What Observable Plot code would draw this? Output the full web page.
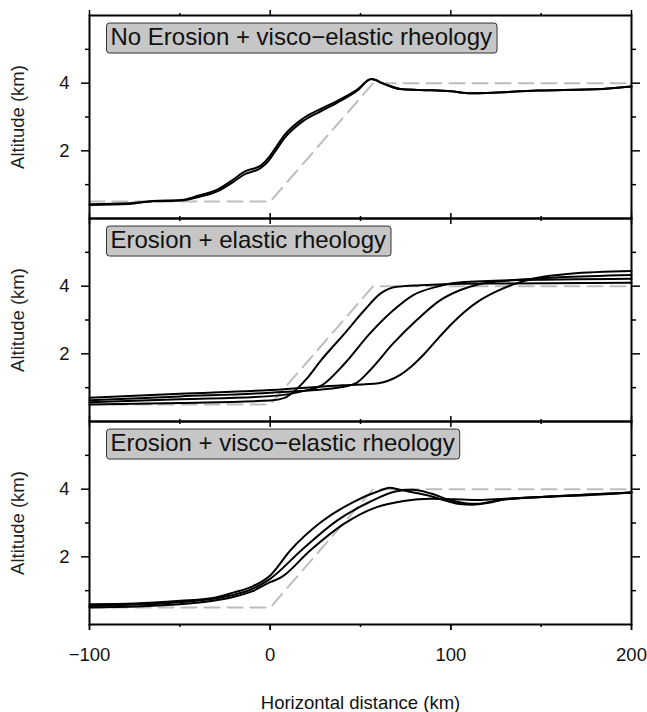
<!DOCTYPE html>
<html><head><meta charset="utf-8">
<script src="https://cdn.jsdelivr.net/npm/d3@7"></script>
<script src="https://cdn.jsdelivr.net/npm/@observablehq/plot@0.6"></script>
<style>body{margin:0;background:#fff;font-family:"Liberation Sans",Arial,sans-serif;}</style>
</head><body><div id="chart"></div>
<script>
const panels = ["p1", "p2", "p3"];
const panelLabels = ["No Erosion + visco\u2212elastic rheology", "Erosion + elastic rheology", "Erosion + visco\u2212elastic rheology"];
const yAxisLabel = "Altitude (km)";
const xAxisLabel = "Horizontal distance (km)";
const xTicksMajor = [-100, 0, 100, 200];
const xTicksMinor = [-50, 50, 150];
const yTicksMajor = [2, 4];
const yTicksMinor = [1, 3, 5];

// initial topography (dashed)
const initX = [-100, 0, 57, 200];
const initY = [0.5, 0.5, 4.0, 4.0];

// Panel 1: No erosion + visco-elastic
const p1aX = [-100, -78, -65, -49, -40, -29, -21, -14, -5, -1, 4, 8, 18, 28, 37, 48, 56, 63, 72, 83, 100, 111, 148, 184, 200];
const p1aY = [0.40, 0.43, 0.51, 0.53, 0.63, 0.81, 1.06, 1.31, 1.50, 1.70, 2.08, 2.38, 2.87, 3.17, 3.42, 3.77, 4.12, 3.98, 3.83, 3.80, 3.76, 3.70, 3.78, 3.83, 3.90];
const p1bX = [-100, -78, -65, -49, -40, -29, -21, -14, -5, -1, 4, 8, 18, 28, 37, 48, 56, 63, 72, 83, 100, 111, 148, 184, 200];
const p1bY = [0.42, 0.45, 0.52, 0.55, 0.67, 0.86, 1.13, 1.39, 1.57, 1.79, 2.17, 2.47, 2.95, 3.24, 3.47, 3.80, 4.12, 3.98, 3.83, 3.80, 3.76, 3.70, 3.78, 3.83, 3.90];

// Panel 2: Erosion + elastic
const p2aX = [-100, -50, 0, 8, 13, 20, 28, 41, 52, 61, 70, 83, 96, 130, 200];
const p2aY = [0.50, 0.55, 0.62, 0.70, 0.88, 1.25, 1.80, 2.59, 3.28, 3.78, 3.98, 4.03, 4.06, 4.08, 4.10];
const p2bX = [-100, -50, 0, 20, 28, 41, 55, 68, 79, 92, 103, 130, 200];
const p2bY = [0.57, 0.66, 0.75, 0.92, 1.05, 1.70, 2.59, 3.28, 3.73, 3.98, 4.10, 4.17, 4.22];
const p2cX = [-100, -50, 0, 40, 48, 55, 68, 81, 94, 105, 115, 135, 160, 200];
const p2cY = [0.63, 0.74, 0.85, 1.02, 1.15, 1.50, 2.30, 2.99, 3.58, 3.88, 4.05, 4.18, 4.26, 4.33];
const p2dX = [-100, -50, 0, 40, 60, 66, 72, 78, 85, 92, 100, 108, 116, 125, 135, 148, 166, 200];
const p2dY = [0.70, 0.82, 0.93, 1.07, 1.13, 1.22, 1.38, 1.62, 1.98, 2.40, 2.86, 3.26, 3.58, 3.84, 4.06, 4.25, 4.37, 4.45];

// Panel 3: Erosion + visco-elastic
const p3aX = [-100, -75, -50, -30, -20, -10, 0, 11, 28, 46, 61, 66, 72, 87, 98, 105, 112, 125, 150, 175, 200];
const p3aY = [0.60, 0.62, 0.70, 0.80, 0.95, 1.12, 1.45, 2.18, 3.02, 3.62, 3.96, 4.04, 3.98, 3.82, 3.65, 3.56, 3.54, 3.66, 3.77, 3.82, 3.90];
const p3bX = [-100, -50, -20, -10, 0, 17, 37, 55, 70, 79, 89, 100, 111, 118, 130, 150, 200];
const p3bY = [0.55, 0.66, 0.88, 1.05, 1.35, 2.18, 3.07, 3.62, 3.94, 3.98, 3.87, 3.67, 3.57, 3.58, 3.70, 3.77, 3.90];
const p3cX = [-100, -50, -20, -10, 0, 6, 22, 41, 59, 74, 89, 102, 115, 130, 150, 200];
const p3cY = [0.50, 0.60, 0.82, 0.98, 1.25, 1.39, 2.18, 2.98, 3.47, 3.65, 3.72, 3.70, 3.68, 3.72, 3.77, 3.90];

function rows(panel, series, xs, ys) {
  return xs.map((x, i) => ({panel, series, x, y: ys[i]}));
}
const curves = [
  ...rows("p1", "a", p1aX, p1aY), ...rows("p1", "b", p1bX, p1bY),
  ...rows("p2", "a", p2aX, p2aY), ...rows("p2", "b", p2bX, p2bY),
  ...rows("p2", "c", p2cX, p2cY), ...rows("p2", "d", p2dX, p2dY),
  ...rows("p3", "a", p3aX, p3aY), ...rows("p3", "b", p3bX, p3bY), ...rows("p3", "c", p3cX, p3cY)
];
const initial = panels.flatMap(p => rows(p, "init", initX, initY));
const labels = panels.map((p, i) => ({panel: p, label: panelLabels[i], ylabel: yAxisLabel}));

const noText = () => "";
const tickStyle = {stroke: "black", strokeWidth: 1.5};

const chart = Plot.plot({
  width: 647,
  height: 712,
  marginTop: 15,
  marginBottom: 88,
  marginLeft: 89,
  marginRight: 16,
  style: {fontFamily: "'Liberation Sans', Arial, sans-serif", color: "#111", background: "white"},
  x: {domain: [-100, 200], axis: null},
  y: {domain: [0, 6], axis: null},
  fy: {domain: panels, axis: null, padding: 0},
  marks: [
    Plot.line(initial, {x: "x", y: "y", z: "series", fy: "panel", stroke: "#bdbdbd", strokeWidth: 2, strokeDasharray: "15,8"}),
    Plot.line(curves, {x: "x", y: "y", z: "series", fy: "panel", stroke: "black", strokeWidth: 2, curve: "monotone-x"}),
    Plot.frame({stroke: "black", strokeWidth: 2}),
    // left axis
    Plot.axisY({anchor: "left", ticks: yTicksMajor, tickSize: 8, tickPadding: 12, fontSize: 18.5, ...tickStyle,
      tickFormat: d => String(d), label: null}),
    Plot.axisY({anchor: "left", ticks: yTicksMinor, tickSize: 4, tickFormat: noText, label: null, ...tickStyle}),
    // right axis
    Plot.axisY({anchor: "right", ticks: yTicksMajor, tickSize: 8, tickFormat: noText, label: null, ...tickStyle}),
    Plot.axisY({anchor: "right", ticks: yTicksMinor, tickSize: 4, tickFormat: noText, label: null, ...tickStyle}),
    // top/bottom ticks on every panel
    Plot.axisX({anchor: "top", ticks: xTicksMajor, tickSize: 6, tickFormat: noText, label: null, facetAnchor: null, ...tickStyle}),
    Plot.axisX({anchor: "top", ticks: xTicksMinor, tickSize: 3, tickFormat: noText, label: null, facetAnchor: null, ...tickStyle}),
    Plot.axisX({anchor: "bottom", ticks: xTicksMajor, tickSize: 6, tickFormat: noText, label: null, facetAnchor: null, ...tickStyle}),
    Plot.axisX({anchor: "bottom", ticks: xTicksMinor, tickSize: 3, tickFormat: noText, label: null, facetAnchor: null, ...tickStyle}),
    // labelled bottom axis
    Plot.axisX({anchor: "bottom", ticks: xTicksMajor, tickSize: 6, tickPadding: 17, fontSize: 18.5, ...tickStyle,
      tickFormat: d => d < 0 ? "\u2212" + Math.abs(d) : String(d),
      label: xAxisLabel, labelAnchor: "center", labelArrow: "none", labelOffset: 84}),
    // y axis title per panel
    Plot.text(labels, {fy: "panel", text: "ylabel", frameAnchor: "left", rotate: -90, dx: -71,
      textAnchor: "middle", fontSize: 18.5, fill: "#222"}),
    // panel titles
    Plot.text(labels, {fy: "panel", text: "label", frameAnchor: "top-left", dx: 21, dy: 12, lineAnchor: "top",
      textAnchor: "start", fontSize: 24, fill: "#111"})
  ]
});

document.getElementById("chart").appendChild(chart);

// draw rounded grey boxes behind the panel titles
chart.querySelectorAll('g[aria-label="text"] text').forEach(t => {
  if (!panelLabels.includes(t.textContent)) return;
  const bb = t.getBBox();
  const r = document.createElementNS("http://www.w3.org/2000/svg", "rect");
  r.setAttribute("x", bb.x - 4);
  r.setAttribute("y", bb.y + 0.5);
  r.setAttribute("width", bb.width + 9);
  r.setAttribute("height", bb.height + 3);
  r.setAttribute("rx", 3);
  r.setAttribute("fill", "#c6c6c6");
  r.setAttribute("stroke", "#333");
  r.setAttribute("stroke-width", 1);
  const tr = t.getAttribute("transform");
  if (tr) r.setAttribute("transform", tr);
  t.parentNode.insertBefore(r, t);
});
</script>
</body></html>
